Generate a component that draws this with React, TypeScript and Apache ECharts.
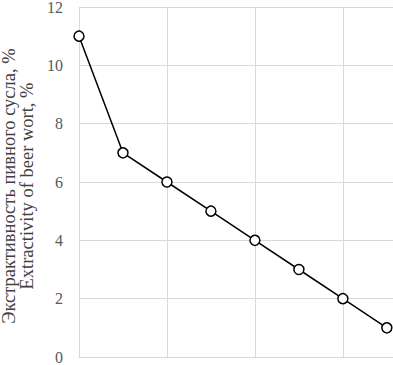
import React, { useEffect, useRef } from "react";
import * as echarts from "echarts";

const xValues = [0, 1, 2, 3, 4, 5, 6, 7];
const yValues = [11, 7, 6, 5, 4, 3, 2, 1];
const yTitle = "Экстрактивность пивного сусла, %\nExtractivity of beer wort, %";

export default function App() {
  const ref = useRef<HTMLDivElement>(null);
  useEffect(() => {
    document.body.style.margin = "0";
    const chart = echarts.init(ref.current!, null, { renderer: "svg" });
    const grid = "#d9d9d9";
    chart.setOption({
      animation: false,
      backgroundColor: "#ffffff",
      grid: { left: 79, right: 0, top: 7, bottom: 8, containLabel: false, outerBoundsMode: "none" },
      xAxis: {
        type: "value",
        min: 0,
        max: 7.14,
        interval: 2,
        axisLine: { show: true, lineStyle: { color: grid, width: 1 } },
        axisTick: { show: false },
        axisLabel: { show: false },
        splitLine: { show: true, showMinLine: true, lineStyle: { color: grid, width: 1 } },
      },
      yAxis: {
        type: "value",
        min: 0,
        max: 12,
        interval: 2,
        name: yTitle,
        nameLocation: "middle",
        nameRotate: 90,
        nameGap: 41,
        nameTextStyle: {
          fontFamily: "Liberation Serif",
          fontSize: 18.5,
          color: "#404040",
          lineHeight: 17.5,
          padding: [0, 8, 0, 0],
        },
        axisLine: { show: false },
        axisTick: { show: false },
        axisLabel: {
          fontFamily: "Liberation Serif",
          fontSize: 16,
          color: "#595959",
          margin: 16,
        },
        splitLine: { show: true, lineStyle: { color: grid, width: 1 } },
      },
      series: [
        {
          type: "line",
          data: xValues.map((x, i) => [x, yValues[i]]),
          symbol: "circle",
          symbolSize: 10,
          lineStyle: { color: "#000000", width: 1.5 },
          itemStyle: { color: "#ffffff", borderColor: "#000000", borderWidth: 1.5 },
          clip: false,
        },
      ],
    });
    return () => chart.dispose();
  }, []);
  return <div ref={ref} style={{ width: 393, height: 365 }} />;
}
